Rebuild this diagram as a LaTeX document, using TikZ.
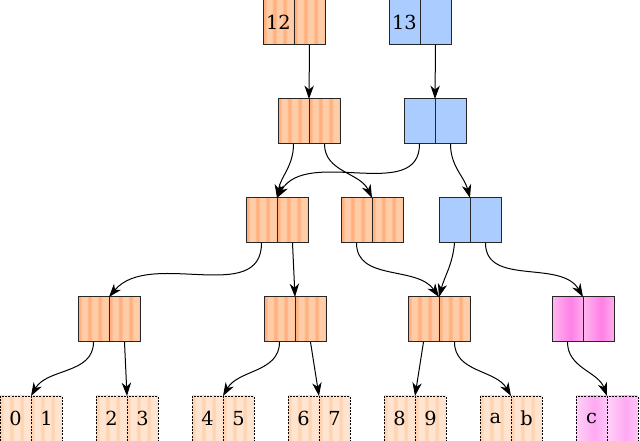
\documentclass[tikz,border=0pt]{standalone}
\usepackage{fontspec}
\setmainfont{DejaVu Serif}
\usetikzlibrary{arrows.meta}

\definecolor{blueish}{HTML}{AACCFF}
% vertical stripes, three per cell
\pgfdeclarehorizontalshading{ostripes}{100bp}{rgb(0bp)=(1,.70,.50); rgb(25bp)=(1,.70,.50);
  rgb(29bp)=(1,.70,.50); rgb(31bp)=(1,.80,.66); rgb(39bp)=(1,.80,.66); rgb(41.5bp)=(1,.70,.50);
  rgb(45.5bp)=(1,.70,.50); rgb(47.5bp)=(1,.80,.66); rgb(56bp)=(1,.80,.66); rgb(58.3bp)=(1,.70,.50);
  rgb(62bp)=(1,.70,.50); rgb(64bp)=(1,.80,.66); rgb(72.5bp)=(1,.80,.66); rgb(75bp)=(1,.70,.50);
  rgb(100bp)=(1,.70,.50)}
\pgfdeclarehorizontalshading{lstripes}{100bp}{rgb(0bp)=(1,.83,.70); rgb(25bp)=(1,.83,.70);
  rgb(29bp)=(1,.83,.70); rgb(31bp)=(1,.90,.82); rgb(39bp)=(1,.90,.82); rgb(41.5bp)=(1,.83,.70);
  rgb(45.5bp)=(1,.83,.70); rgb(47.5bp)=(1,.90,.82); rgb(56bp)=(1,.90,.82); rgb(58.3bp)=(1,.83,.70);
  rgb(62bp)=(1,.83,.70); rgb(64bp)=(1,.90,.82); rgb(72.5bp)=(1,.90,.82); rgb(75bp)=(1,.83,.70);
  rgb(100bp)=(1,.83,.70)}
\pgfdeclarehorizontalshading{pinkish}{100bp}{rgb(0bp)=(1,.72,.94); rgb(25bp)=(1,.72,.94);
  rgb(55bp)=(1,.50,.90); rgb(75bp)=(1,.68,.93); rgb(100bp)=(1,.68,.93)}
\pgfdeclarehorizontalshading{lpinkish}{100bp}{rgb(0bp)=(1,.82,.97); rgb(25bp)=(1,.82,.97);
  rgb(55bp)=(1,.66,.95); rgb(75bp)=(1,.78,.97); rgb(100bp)=(1,.78,.97)}

\tikzset{
  cell/.style={minimum width=23.25pt, minimum height=33.75pt, inner sep=0pt, outer sep=0pt,
    font=\fontsize{14.5}{16}\selectfont},
  ocell/.style={cell, draw=black!85, line width=0.75pt, shading=ostripes},
  bcell/.style={cell, draw=black!85, line width=0.75pt, fill=blueish},
  pcell/.style={cell, draw=black!85, line width=0.75pt, shading=pinkish},
  oleaf/.style={cell, draw=black, line width=0.6pt, dash pattern=on 1.5pt off 1pt, shading=lstripes},
  pleaf/.style={cell, draw=black, line width=0.6pt, dash pattern=on 1.5pt off 1pt, shading=lpinkish},
  ptr/.style={line width=0.75pt, -{Stealth[length=10pt,width=7pt,inset=3pt]}}
}

\begin{document}
\begin{tikzpicture}[x=0.75pt,y=0.75pt]
\useasboundingbox (0,0) rectangle (640,441);
% records: name / left cell centre / row / style / labels
\foreach \n/\x/\y/\s/\p/\q in {t12/278.5/418.5/ocell/12/{}, t13/404.5/418.5/bcell/13/{},
    a/293.5/319.5/ocell/{}/{}, b/419.5/319.5/bcell/{}/{},
    c/261.5/220.5/ocell/{}/{}, d/356.5/220.5/ocell/{}/{}, e/454.5/220.5/bcell/{}/{},
    f/93.5/121.5/ocell/{}/{}, g/279.5/121.5/ocell/{}/{}, h/423.5/121.5/ocell/{}/{},
    i/567.5/121.5/pcell/{}/{},
    l0/15.5/22.5/oleaf/0/1, l1/111.5/22.5/oleaf/2/3, l2/207.5/22.5/oleaf/4/5,
    l3/303.5/22.5/oleaf/6/7, l4/399.5/22.5/oleaf/8/9, l5/495.5/22.5/oleaf/a/b,
    l6/591.5/22.5/pleaf/c/{}} {
  \node[\s] (\n-l) at (\x,\y) {\p};
  \node[\s, anchor=west] (\n-r) at (\n-l.east) {\q};
}
% pointers
\draw[ptr] (t12-r.south) -- (a-l.north east);
\draw[ptr] (t13-r.south) -- (b-l.north east);
\draw[ptr] (a-l.south) to[out=-90,in=80] (c-l.north east);
\draw[ptr] (a-r.south) to[out=-90,in=115] (d-l.north east);
\draw[ptr] (b-l.south) to[out=-90,in=60] (c-l.north east);
\draw[ptr] (b-r.south) to[out=-90,in=105] (e-l.north east);
\draw[ptr] (c-l.south) to[out=-90,in=50] (f-l.north east);
\draw[ptr] (c-r.south) -- (g-l.north east);
\draw[ptr] (d-l.south) to[out=-90,in=125] (h-l.north east);
\draw[ptr] (e-l.south) to[out=-95,in=75] (h-l.north east);
\draw[ptr] (e-r.south) to[out=-90,in=120] (i-l.north east);
\draw[ptr] (f-l.south) to[out=-90,in=60] (l0-l.north east);
\draw[ptr] (f-r.south) -- (l1-l.north east);
\draw[ptr] (g-l.south) to[out=-90,in=60] (l2-l.north east);
\draw[ptr] (g-r.south) -- (l3-l.north east);
\draw[ptr] (h-l.south) -- (l4-l.north east);
\draw[ptr] (h-r.south) to[out=-90,in=120] (l5-l.north east);
\draw[ptr] (i-l.south) to[out=-90,in=110] (l6-l.north east);
\end{tikzpicture}
\end{document}
